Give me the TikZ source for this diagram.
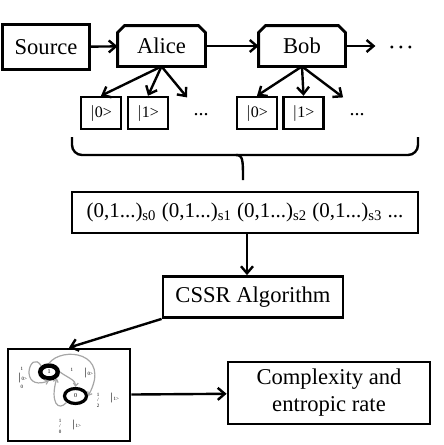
\documentclass[tikz,border=0pt]{standalone}
\usepackage{fontspec}
\setmainfont{Liberation Serif}
\usepackage{tikz}
\usetikzlibrary{
  calc,
  arrows.meta,
  shapes.geometric
}

\tikzset{
  box/.style={draw, line width=1.4pt, inner sep=0pt, font=\fontsize{11.3}{13.5}\selectfont, align=center},
  party/.style={inner sep=0pt, font=\fontsize{11.3}{13.5}\selectfont},
  ket/.style={draw, line width=1.2pt, inner sep=0pt, minimum width=20pt, minimum height=16pt,
    font=\fontsize{8}{9}\selectfont},
  flow/.style={line width=1.2pt, -{Straight Barb[length=3.5pt,width=6pt]}},
  loopline/.style={gray!70, line width=0.6pt, -{Straight Barb[length=1.5pt,width=2.5pt]}},
  tinytext/.style={inner sep=0pt, font=\fontsize{2.5}{2.8}\selectfont, align=center}
}

\begin{document}
\begin{tikzpicture}[x=0.5pt, y=-0.5pt]
      \useasboundingbox (0,0) rectangle (444,445);

      % Source and the chain of parties
      \node[box, minimum width=43.5pt, minimum height=22.5pt] (source) at (46,47) {Source};
      \node[party, minimum width=43.5pt, minimum height=20pt] (alice) at (161.5,46) {Alice};
      \node[party, minimum width=43pt, minimum height=20pt] (bob) at (302,46) {Bob};
      % boxes of the parties have cut top corners
      \foreach \p in {alice,bob}{
        \draw[line width=1.4pt] (\p.south west) -- ($(\p.north west)+(0,7)$) -- ($(\p.north west)+(7,0)$)
          -- ($(\p.north east)+(-7,0)$) -- ($(\p.north east)+(0,7)$) -- (\p.south east) -- cycle;
      }
      \node[font=\fontsize{6}{6}\selectfont, inner sep=0pt] (more) at (401,49)
        {\textbullet\hspace{2.4pt}\textbullet\hspace{2.4pt}\textbullet};
      \draw[flow] (source) -- (alice);
      \draw[flow] (alice) -- (bob);
      \draw[flow] (bob.east) -- ++(30,0) coordinate (bobout);

      % Measurement outcomes of Alice
      \node[ket] (a0) at (101,113) {$|$0>};
      \node[ket] (a1) at (148,113) {$|$1>};
      \node[font=\fontsize{10}{10}\selectfont, inner sep=0pt] (adots) at (201,115) {...};
      \draw[flow] (alice.south) -- (a0.north);
      \draw[flow] (alice.south) -- (a1.north);
      \draw[flow] (alice.south) -- ($(adots.north west)+(-6,-16)$) coordinate (aend);

      % Measurement outcomes of Bob
      \node[ket] (b0) at (257,113) {$|$0>};
      \node[ket] (b1) at (303.5,113) {$|$1>};
      \node[font=\fontsize{10}{10}\selectfont, inner sep=0pt] (bdots) at (357,115) {...};
      \draw[flow] (bob.south) -- (b0.north);
      \draw[flow] (bob.south) -- (b1.north);
      \draw[flow] (bob.south) -- ($(bdots.north west)+(-6,-16)$) coordinate (bend);

      % Brace collecting all outcomes
      \coordinate (tip) at (243,180);
      \draw[line width=1.2pt, rounded corners=5pt] (72,137) -- (72,155) -- (418,155) -- (418,137);
      \draw[line width=1.2pt] (236,155) .. controls (243,155) and (243,160) .. (tip);

      % Recorded sequence
      \node[box, minimum width=173pt, minimum height=20.5pt, font=\fontsize{10.5}{12}\selectfont] (seq) at (245,212.5)
        {(0,1...)\textsubscript{s0} (0,1...)\textsubscript{s1} (0,1...)\textsubscript{s2} (0,1...)\textsubscript{s3} ...};

      % Reconstruction
      \node[box, minimum width=90pt, minimum height=20.5pt] (cssr) at (253,297) {CSSR Algorithm};
      \draw[flow] (seq.south -| 247,0) -- (cssr.north -| 247,0);

      % Thumbnail of the reconstructed machine
      \node[box, minimum width=61pt, minimum height=46pt] (thumb) at (69,395) {};
      \draw[flow] (cssr.south west) -- (thumb.north);

      \node[draw, ellipse, line width=2.2pt, minimum width=8.8pt, minimum height=6.5pt, inner sep=0pt, font=\fontsize{3}{3}\selectfont] (s1) at (49,372) {1};
      \node[draw, ellipse, line width=1.6pt, minimum width=11pt, minimum height=7.5pt, inner sep=0pt, font=\fontsize{3}{3}\selectfont] (s2) at (75.5,396) {0};
      \draw[loopline] (s1.north west) .. controls (30,348) and (18,392) .. (s1.south);
      \draw[loopline] (s1.north) .. controls (62,346) and (112,352) .. (s2.east);
      \draw[loopline] (s1.east) .. controls (68,378) and (76,380) .. (s2.north);
      \draw[loopline] (s2.south west) .. controls (58,412) and (50,402) .. (s1.south east);
      \node[tinytext] (l1) at (22,378) {1\\$|$0>\\0};
      \node[tinytext] (l2) at (72,370) {1};
      \node[tinytext] (l3) at (88,373) {$|$0>};
      \node[tinytext] (l4) at (98,400) {1\\/\\2};
      \node[tinytext] (l5) at (114,398) {$|$1>};
      \node[tinytext] (l6) at (60,426) {1\\/\\0};
      \node[tinytext] (l7) at (76,425) {$|$1>};

      % Result
      \node[box, minimum width=101pt, minimum height=31pt] (result) at (329,393) {Complexity and\\entropic rate};
      \draw[flow] (thumb) -- (result);
    \end{tikzpicture}
\end{document}
